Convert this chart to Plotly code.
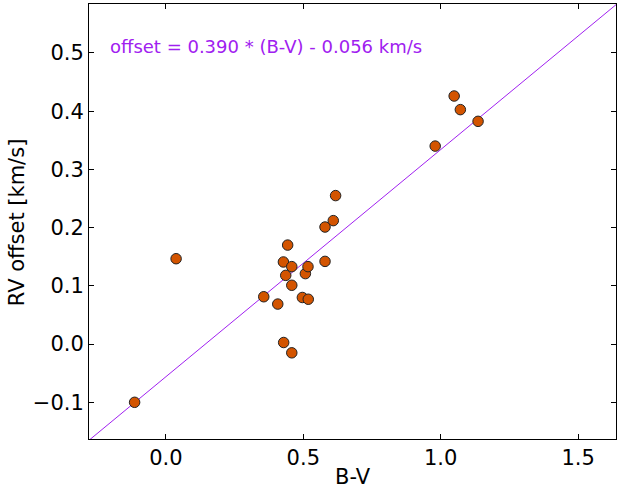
import plotly.graph_objects as go
import numpy as np

# Data
bv = [-0.114, 0.037, 0.356, 0.407, 0.4285, 0.458, 0.436, 0.4275, 0.443, 0.458,
      0.458, 0.4965, 0.5075, 0.517, 0.518, 0.579, 0.579, 0.609, 0.6175,
      0.980, 1.049, 1.0715, 1.136]
rv_offset = [-0.100, 0.1466, 0.0813, 0.0687, 0.0027, -0.015, 0.118, 0.141, 0.170, 0.133,
             0.101, 0.080, 0.121, 0.133, 0.077, 0.142, 0.201, 0.212, 0.255,
             0.340, 0.426, 0.4026, 0.3825]
fit_slope = 0.390
fit_intercept = -0.056
x_range = [-0.28, 1.638]
y_range = [-0.163, 0.584]
x_ticks = [0.0, 0.5, 1.0, 1.5]
y_ticks = [-0.1, 0.0, 0.1, 0.2, 0.3, 0.4, 0.5]

line_color = "#a020f0"
fx = np.array(x_range)
fy = fit_slope * fx + fit_intercept

fig = go.Figure()
fig.add_trace(go.Scatter(x=fx, y=fy, mode="lines",
                         line=dict(color=line_color, width=1), showlegend=False))
fig.add_trace(go.Scatter(x=bv, y=rv_offset, mode="markers",
                         marker=dict(size=10.5, color="#d35400",
                                     line=dict(color="#222222", width=1)),
                         showlegend=False))

fig.add_annotation(x=-0.212, y=0.511, xref="x", yref="y",
                   text="offset = %.3f * (B-V) - %.3f km/s" % (fit_slope, -fit_intercept),
                   showarrow=False, xanchor="left", yanchor="middle",
                   font=dict(family="DejaVu Sans", size=18, color=line_color))

titlefont = dict(family="DejaVu Sans", size=21, color="black")
fig.add_annotation(x=0.5, y=-0.0874, xref="paper", yref="paper", text="B-V",
                   showarrow=False, xanchor="center", yanchor="middle", font=titlefont)
fig.add_annotation(x=-0.136, y=0.499, xref="paper", yref="paper", text="RV offset [km/s]",
                   textangle=-90, showarrow=False, xanchor="center", yanchor="middle",
                   font=titlefont)

tickfont = dict(family="DejaVu Sans", size=21, color="black")
fig.update_xaxes(range=x_range, tickvals=x_ticks,
                 ticktext=[f"{v:.1f}" for v in x_ticks],
                 ticks="inside", ticklen=5, tickcolor="black", mirror="allticks",
                 showline=True, linecolor="black", linewidth=1,
                 showgrid=False, zeroline=False, tickfont=tickfont, automargin=False)
fig.update_yaxes(range=y_range, tickvals=y_ticks,
                 ticktext=[f"{v:.1f}".replace("-", "\u2212") for v in y_ticks],
                 ticks="inside", ticklen=5, tickcolor="black", mirror="allticks",
                 showline=True, linecolor="black", linewidth=1,
                 showgrid=False, zeroline=False, tickfont=tickfont, automargin=False)
fig.update_layout(width=617, height=488, margin=dict(l=89, r=1, t=4, b=49),
                  plot_bgcolor="white", paper_bgcolor="white")
fig.write_html("out.html")
